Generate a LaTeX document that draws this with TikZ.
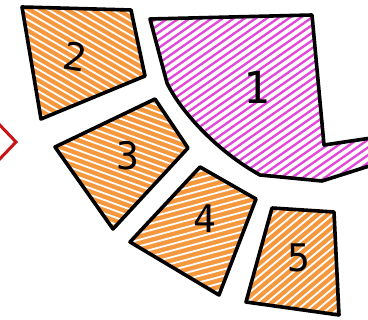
\documentclass[tikz,border=0pt]{standalone}
\usepackage{fontspec}
\newfontfamily\hand{DejaVu Sans Mono}
\definecolor{orng}{RGB}{245,152,62}
\definecolor{mag}{RGB}{226,70,218}
\definecolor{chev}{RGB}{200,20,20}
\tikzset{
  outline/.style={draw=black, line width=3.6pt, line join=round},
  num/.style={font=\hand\fontsize{38}{38}\selectfont, inner sep=0pt, text=black},
  bignum/.style={font=\hand\fontsize{44}{44}\selectfont, inner sep=0pt, text=black},
}
\newcommand\hatchlines[5]{%
  \begin{scope}[rotate around={#1:(#2,#3)}]
    \foreach \k in {-45,...,45}{\draw[#4, line width=#5] (#2-320,#3+\k*6.3) -- (#2+320,#3+\k*6.3);}
  \end{scope}}
\begin{document}
\begin{tikzpicture}[x=1pt,y=-1pt]
\useasboundingbox (0,0) rectangle (368,320);
\begin{scope}
\clip (0,0) rectangle (368,320);
\fill[white] (0,0) rectangle (368,320);
% corners
\coordinate (a1) at (150,19); \coordinate (a2) at (312,15); \coordinate (a3) at (324,145);
\coordinate (a4) at (385,136); \coordinate (a5) at (385,161); \coordinate (a6) at (322,181);
\coordinate (a7) at (260,175); \coordinate (a8) at (167,83);
\coordinate (b1) at (22,7); \coordinate (b2) at (131,10); \coordinate (b3) at (145,76); \coordinate (b4) at (41,119);
\coordinate (c1) at (55,147); \coordinate (c2) at (155,99); \coordinate (c3) at (188,148); \coordinate (c4) at (113,229);
\coordinate (d1) at (130,242); \coordinate (d2) at (200,167); \coordinate (d3) at (256,199); \coordinate (d4) at (219,295);
\coordinate (e1) at (272,208); \coordinate (e2) at (334,212); \coordinate (e3) at (339,315); \coordinate (e4) at (246,302);
% shape 1
\begin{scope}
\clip (a1) -- (a2) -- (a3) -- (a4) -- (a5) -- (a6) -- (a7) .. controls (215,150) and (180,110) .. (a8) -- cycle;
\hatchlines{35}{260}{100}{mag}{2.3pt}
\end{scope}
\draw[outline] (a4) -- (a3) -- (a2) -- (a1) -- (a8) .. controls (180,110) and (215,150) .. (a7) -- (a6) -- (a5);
% shape 2
\begin{scope}
\clip (b1) -- (b2) -- (b3) -- (b4) -- cycle;
\fill[orng] (0,0) rectangle (368,320);
\hatchlines{-30}{85}{60}{white}{1.8pt}
\end{scope}
\draw[outline] (b1) -- (b2) -- (b3) -- (b4) -- cycle;
% shape 3
\begin{scope}
\clip (c1) -- (c2) -- (c3) -- (c4) -- cycle;
\fill[orng] (0,0) rectangle (368,320);
\hatchlines{-20}{128}{155}{white}{1.8pt}
\end{scope}
\draw[outline] (c1) -- (c2) -- (c3) -- (c4) -- cycle;
% shape 4
\begin{scope}
\clip (d1) -- (d2) -- (d3) -- (d4) -- cycle;
\fill[orng] (0,0) rectangle (368,320);
\hatchlines{15}{200}{230}{white}{1.8pt}
\end{scope}
\draw[outline] (d1) -- (d2) -- (d3) -- (d4) -- cycle;
% shape 5
\begin{scope}
\clip (e1) -- (e2) -- (e3) -- (e4) -- cycle;
\fill[orng] (0,0) rectangle (368,320);
\hatchlines{40}{298}{260}{white}{1.8pt}
\end{scope}
\draw[outline] (e1) -- (e2) -- (e3) -- (e4) -- cycle;
% labels
\node[bignum] (n1) at (257,87) {1};
\node[num, rotate=-10] (n2) at (75,57) {2};
\node[num] (n3) at (128,156) {3};
\node[num] (n4) at (205,219) {4};
\node[num] (n5) at (299,258) {5};
% chevron
\coordinate (h1) at (-6,119); \coordinate (h2) at (16,142); \coordinate (h3) at (-6,165);
\draw[chev, line width=3pt] (h1) -- (h2) -- (h3);
\end{scope}
\end{tikzpicture}
\end{document}
